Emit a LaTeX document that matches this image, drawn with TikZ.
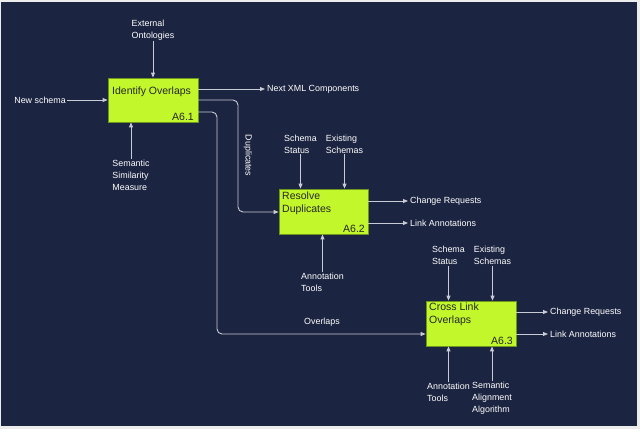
\documentclass[tikz,border=0pt]{standalone}
\usepackage{fontspec}
\setmainfont{Liberation Sans}
\usetikzlibrary{arrows.meta}
\definecolor{bg}{RGB}{27,36,64}
\definecolor{lime}{RGB}{194,247,44}
\definecolor{limeedge}{RGB}{110,150,30}
\definecolor{wire}{RGB}{200,204,212}
\begin{document}
\begin{tikzpicture}[x=1pt,y=-1pt,
  arr/.style={draw=wire,line width=0.9pt,-{Triangle[length=5pt,width=4pt]}},
  wireline/.style={draw=wire,line width=0.9pt,rounded corners=5pt,-{Triangle[length=5pt,width=4pt]}},
  lbl/.style={text=white,font=\fontsize{8.9}{12}\selectfont,align=left,inner sep=1pt},
  olbl/.style={lbl,anchor=west,inner sep=2pt},
  act/.style={draw=limeedge,fill=lime,line width=0.8pt,inner sep=0pt},
  btxt/.style={text=black!85,font=\fontsize{10.5}{13}\selectfont,align=left,inner sep=0pt},
]
\useasboundingbox (0,0) rectangle (640,429);
\fill[white!85!gray] (0,0) rectangle (640,429);
\fill[bg] (1,2) rectangle (637,426);

% Boxes
\node[act,minimum width=90pt,minimum height=44pt] (b1) at (153,100) {};
\node[act,minimum width=89pt,minimum height=45pt] (b2) at (323.5,211.5) {};
\node[act,minimum width=90pt,minimum height=45pt] (b3) at (471,323.5) {};

\node[btxt,anchor=west] (t1) at (112,92) {Identify Overlaps};
\node[btxt,anchor=south east] (n1) at (194,121) {A6.1};
\node[btxt,anchor=north west] (t2) at (282,191.5) {Resolve\\Duplicates};
\node[btxt,anchor=south east] (n2) at (365,233) {A6.2};
\node[btxt,anchor=north west] (t3) at (429,302.5) {Cross Link\\Overlaps};
\node[btxt,anchor=south east] (n3) at (513,345) {A6.3};

% Box 1 labels
\node[lbl] (ext) at (153,30) {External\\Ontologies};
\draw[arr] (ext.south) -- (b1.north);
\node[lbl,anchor=east] (ns) at (67,100) {New schema};
\draw[arr] (ns.east) -- (ns.east -| b1.west);
\node[lbl] (ssm) at (131,175) {Semantic\\Similarity\\Measure};
\draw[arr] (ssm.north) -- (ssm.north |- b1.south);
\node[olbl] (nx) at (265,89) {Next XML Components};
\draw[arr] (nx.west -| b1.east) -- (nx.west);

% Connectors between boxes
\coordinate (d1) at (198,100);
\coordinate (d2) at (238,212);
\draw[wireline] (d1) -| (d2) -- (d2 -| b2.west);
\node[lbl,rotate=-90] (dup) at (248,155.5) {Duplicates};
\coordinate (o1) at (198,112);
\coordinate (o2) at (217,334);
\draw[wireline] (o1) -| (o2) -- (o2 -| b3.west);
\node[lbl] (ovl) at (322,322) {Overlaps};

% Box 2 labels
\node[lbl] (ss2) at (300.5,144) {Schema\\Status};
\draw[arr] (ss2.south) -- (ss2.south |- b2.north);
\node[lbl] (es2) at (344.5,144) {Existing\\Schemas};
\draw[arr] (es2.south) -- (es2.south |- b2.north);
\node[lbl] (at2) at (322.5,282) {Annotation\\Tools};
\draw[arr] (at2.north) -- (at2.north |- b2.south);
\node[olbl] (cr2) at (408,201) {Change Requests};
\draw[arr] (cr2.west -| b2.east) -- (cr2.west);
\node[olbl] (la2) at (408,223) {Link Annotations};
\draw[arr] (la2.west -| b2.east) -- (la2.west);

% Box 3 labels
\node[lbl] (ss3) at (448.5,255.5) {Schema\\Status};
\draw[arr] (ss3.south) -- (ss3.south |- b3.north);
\node[lbl] (es3) at (492.5,255.5) {Existing\\Schemas};
\draw[arr] (es3.south) -- (es3.south |- b3.north);
\node[lbl] (at3) at (448.5,392.5) {Annotation\\Tools};
\draw[arr] (at3.north) -- (at3.north |- b3.south);
\node[lbl] (saa) at (492,398.5) {Semantic\\Alignment\\Algorithm};
\draw[arr] (saa.north) -- (saa.north |- b3.south);
\node[olbl] (cr3) at (548,312) {Change Requests};
\draw[arr] (cr3.west -| b3.east) -- (cr3.west);
\node[olbl] (la3) at (548,334) {Link Annotations};
\draw[arr] (la3.west -| b3.east) -- (la3.west);
\end{tikzpicture}
\end{document}
